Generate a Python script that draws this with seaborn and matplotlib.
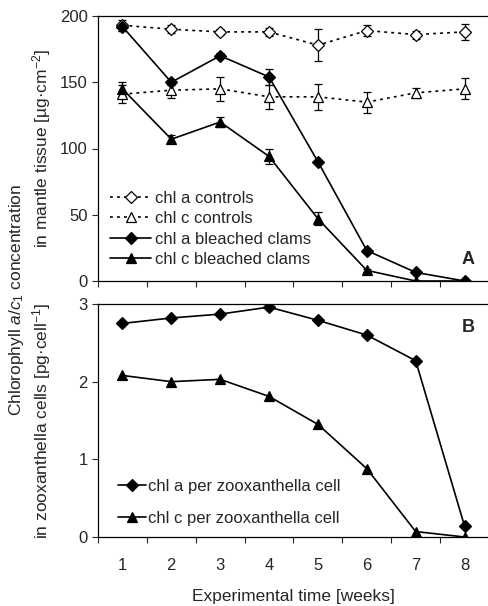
import numpy as np
import pandas as pd
import matplotlib
matplotlib.use("Agg")
import matplotlib.pyplot as plt
import seaborn as sns

weeks = [1, 2, 3, 4, 5, 6, 7, 8]

# Panel A: chlorophyll in mantle tissue [ug cm-2]
chla_ctrl = [193, 190, 188, 188, 178, 189, 186, 188]
chla_ctrl_err = [4, 3, 2, 3, 12, 4, 3, 6]
chlc_ctrl = [141, 144, 145, 139, 139, 135, 142, 145]
chlc_ctrl_err = [7, 6, 9, 9, 10, 8, 4, 8]
chla_bl = [192, 150, 170, 154, 90, 23, 6.5, 0]
chla_bl_err = [3, 2, 2, 6, 1, 1, 1, 0]
chlc_bl = [145, 107, 120, 94, 47, 8, 0, 0]
chlc_bl_err = [5, 3, 4, 6, 5, 1, 0, 0]

# Panel B: chlorophyll per zooxanthella cell [pg cell-1]
chla_cell = [2.75, 2.82, 2.87, 2.96, 2.79, 2.60, 2.27, 0.14]
chlc_cell = [2.08, 2.00, 2.03, 1.81, 1.45, 0.88, 0.07, 0.0]

sns.set_style("ticks")
plt.rcParams['font.family'] = ['Liberation Sans', 'DejaVu Sans']
plt.rcParams['mathtext.fontset'] = 'custom'
plt.rcParams['mathtext.rm'] = 'Liberation Sans'
plt.rcParams['mathtext.it'] = 'Liberation Sans:italic'
plt.rcParams['mathtext.bf'] = 'Liberation Sans:bold'

FS = 12
LFS = 12.5
fig = plt.figure(figsize=(4.89, 6.06), dpi=100)
axA = fig.add_axes([98/489, 1-281/606, 1-98/489, (281-16)/606])
axB = fig.add_axes([98/489, 1-537/606, 1-98/489, (537-304)/606])

lw = 1.2
dash = (0, (1.7, 2.5))

def series(ax, y, err, marker, filled, ls, label, ms):
    df = pd.DataFrame({"week": weeks, "val": y})
    sns.lineplot(data=df, x="week", y="val", ax=ax, color="black", lw=lw,
                 linestyle=ls, marker=marker, markersize=ms,
                 markerfacecolor="black" if filled else "white",
                 markeredgecolor="black", markeredgewidth=0.9,
                 label=label, zorder=3)
    if err is not None:
        ax.errorbar(weeks, y, yerr=err, fmt="none", ecolor="black",
                    elinewidth=0.9, capsize=3, capthick=0.9, zorder=2)

series(axA, chla_ctrl, chla_ctrl_err, "D", False, dash, "chl a controls", 6)
series(axA, chlc_ctrl, chlc_ctrl_err, "^", False, dash, "chl c controls", 7.5)
series(axA, chla_bl, chla_bl_err, "D", True, "-", "chl a bleached clams", 6)
series(axA, chlc_bl, chlc_bl_err, "^", True, "-", "chl c bleached clams", 7.5)

series(axB, chla_cell, None, "D", True, "-", "chl a per zooxanthella cell", 6)
series(axB, chlc_cell, None, "^", True, "-", "chl c per zooxanthella cell", 7.5)

for ax in (axA, axB):
    ax.set_xlim(0.5, 8.5)
    ax.set_xticks(np.arange(0.5, 9.0, 1.0))
    ax.set_xticklabels([])
    ax.set_xticks(weeks, minor=True)
    ax.tick_params(axis="x", which="major", length=4, width=0.8, direction="out")
    ax.tick_params(axis="x", which="minor", length=0, labelsize=FS, pad=15)
    ax.tick_params(axis="y", length=4, width=0.8, labelsize=FS, direction="out")
    for s in ("left", "bottom", "top"):
        ax.spines[s].set_visible(True)
        ax.spines[s].set_linewidth(0.9)
        ax.spines[s].set_color("black")
    ax.spines["right"].set_visible(False)
    ax.set_xlabel("")

axA.set_ylim(0, 200)
axA.set_yticks([0, 50, 100, 150, 200])
axA.set_xticklabels([], minor=True)
axB.set_ylim(0, 3)
axB.set_yticks([0, 1, 2, 3])
axB.set_xticklabels([str(w) for w in weeks], minor=True)

axA.set_ylabel(r"in mantle tissue [µg·cm$^{-2}$]", fontsize=LFS)
axB.set_ylabel(r"in zooxanthella cells [pg·cell$^{-1}$]", fontsize=LFS)
axA.yaxis.set_label_coords(-(98-53)/391, 0.5)
axB.yaxis.set_label_coords(-(98-53)/391, 0.5)
fig.text(17/489, 1-300/606, r"Chlorophyll $\mathit{a/c}_1$ concentration",
         rotation=90, ha="center", va="center", fontsize=LFS)
axB.set_xlabel("Experimental time [weeks]", fontsize=LFS, labelpad=12)

axA.legend(loc="center left", bbox_to_anchor=(0.03, 0.196), frameon=False,
           fontsize=FS, handlelength=2.5, handletextpad=0.2, labelspacing=0.33,
           borderpad=0, borderaxespad=0)
axB.legend(loc="center left", bbox_to_anchor=(0.05, 0.148), frameon=False,
           fontsize=FS, handlelength=1.7, handletextpad=0.15, labelspacing=1.05,
           borderpad=0, borderaxespad=0)

axA.text((468-98)/391, (281-260)/265, "A", fontsize=13, fontweight="bold",
         ha="center", va="center", transform=axA.transAxes)
axB.text((468-98)/391, (537-327)/233, "B", fontsize=13, fontweight="bold",
         ha="center", va="center", transform=axB.transAxes)

fig.savefig("out.png", dpi=100)
